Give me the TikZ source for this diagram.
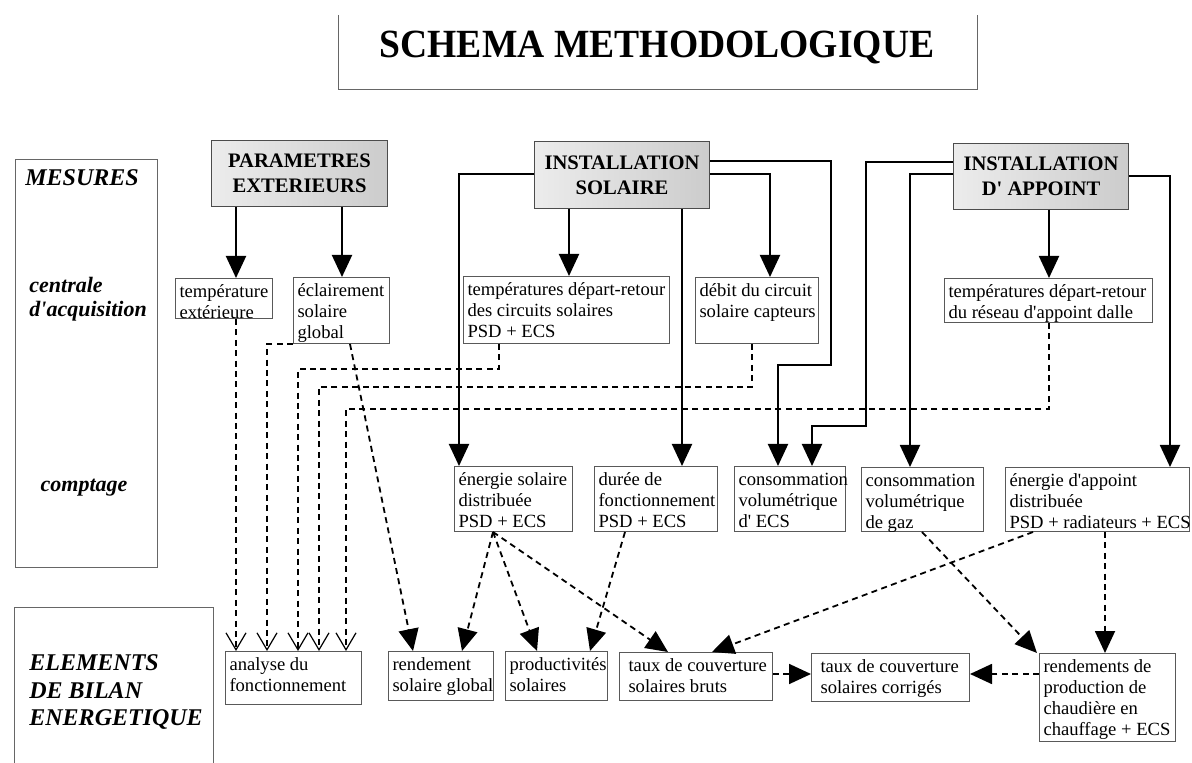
\documentclass[tikz,border=0pt]{standalone}
\usepackage{fontspec}
\usepackage{graphicx}
\setmainfont{Liberation Serif}
\usetikzlibrary{arrows.meta}
\newcommand\ap{\textquotesingle}
\newcommand\bx[6]{\node[box] (#1) at (#2,#3) {\parbox[c][\dimexpr 0.5pt*#5-4pt\relax][t]{\dimexpr 0.5pt*#4-4pt\relax}{\begin{tabular}[t]{@{}l@{}}#6\end{tabular}}};}
\tikzset{
 box/.style={draw=black!65, line width=0.5pt, inner sep=2pt, anchor=north west, font=\fontsize{9.3}{10.6}\selectfont},
 head/.style={draw=black!70, line width=0.5pt, anchor=north west, left color=gray!15, right color=gray!40, font=\fontsize{10.3}{12.5}\selectfont\bfseries, align=center, inner sep=0pt},
 lab/.style={font=\fontsize{11}{12}\selectfont\bfseries\itshape, align=left, inner sep=0pt},
 labU/.style={font=\fontsize{12}{13.8}\selectfont\bfseries\itshape, align=left, inner sep=0pt},
 frame/.style={draw=black!60, line width=0.5pt},
 sol/.style={line width=1pt, -{Triangle[length=11pt,width=10pt]}},
 dsh/.style={line width=0.9pt, dash pattern=on 3pt off 2.2pt, -{Triangle[length=11pt,width=10pt]}},
 dshv/.style={line width=0.9pt, dash pattern=on 3pt off 2.2pt, -{Straight Barb[length=8.5pt,width=10pt,line width=0.6pt]}},
}
\begin{document}
\begin{tikzpicture}[x=0.5pt,y=-0.5pt]
\useasboundingbox (0,0) rectangle (1192,763);
% title
\draw[frame] (338,15) -- (338,90) -- (977,90) -- (977,15);
\node[font=\fontsize{20}{24}\selectfont\bfseries, inner sep=0pt] (title) at (657,48) {\scalebox{0.94}[1]{SCHEMA METHODOLOGIQUE}};
% left label frames
\draw[frame] (15,160) rectangle (157,567);
\draw[frame] (14,763) -- (14,607) -- (213,607) -- (213,763);
\node[labU, anchor=west] (mes) at (25,178) {MESURES};
\node[lab, anchor=west] (cent) at (29,299) {centrale\\d\ap acquisition};
\node[lab] (compt) at (84,488) {comptage};
\node[labU, anchor=west] (elem) at (29,692) {ELEMENTS\\DE BILAN\\ENERGETIQUE};
% headers
\node[head, minimum width=88pt, minimum height=33pt] (PE) at (211,140) {PARAMETRES\\EXTERIEURS};
\node[head, minimum width=87.5pt, minimum height=33.5pt] (IS) at (534,141) {INSTALLATION\\SOLAIRE};
\node[head, minimum width=87.5pt, minimum height=33pt] (IA) at (953,143) {INSTALLATION\\D\ap\ APPOINT};
% row 2
\bx{tExt}{175}{278}{97}{40}{température\\extérieure}
\bx{ecl}{293}{277}{96}{66}{éclairement\\solaire\\global}
\bx{tSol}{463}{276}{206}{67}{températures départ-retour\\des circuits solaires\\PSD + ECS}
\bx{debit}{695}{277}{123}{66}{débit du circuit\\solaire capteurs}
\bx{tApp}{944}{278}{208}{44}{températures départ-retour\\du réseau d\ap appoint dalle}
% row 3
\bx{eSol}{454}{466}{118}{65}{énergie solaire\\distribuée\\PSD + ECS}
\bx{duree}{594}{466}{123}{65}{durée de\\fonctionnement\\PSD + ECS}
\bx{cEcs}{734}{466}{111}{65}{consommation\\volumétrique\\d\ap\ ECS}
\bx{cGaz}{861}{467}{122}{64}{consommation\\volumétrique\\de gaz}
\bx{eApp}{1005}{467}{184}{64}{énergie d\ap appoint\\distribuée\\PSD + radiateurs + ECS}
% row 4
\bx{analyse}{225}{651}{136}{53}{analyse du\\fonctionnement}
\bx{rend}{388}{651}{105}{49}{rendement\\solaire global}
\bx{prod}{505}{651}{102}{49}{productivités\\solaires}
\bx{tBruts}{619}{652}{153}{48}{\hspace*{2.5pt}taux de couverture\\\hspace*{2.5pt}solaires bruts}
\bx{tCorr}{811}{653}{158}{48}{\hspace*{2.5pt}taux de couverture\\\hspace*{2.5pt}solaires corrigés}
\bx{rProd}{1039}{653}{136}{88}{rendements de\\production de\\chaudière en\\chauffage + ECS}
% solid connectors
\draw[sol] (PE.south -| 236,0) -- (tExt.north -| 236,0);
\draw[sol] (PE.south -| 342,0) -- (ecl.north -| 342,0);
\draw[sol] (IS.south -| 569,0) -- (tSol.north -| 569,0);
\draw[sol] (IS.east |- 0,174) -| (debit.north -| 770,0);
\draw[sol] (IS.west |- 0,174) -| (eSol.north -| 459,0);
\draw[sol] (IS.south -| 682,0) -- (duree.north -| 682,0);
\draw[sol] (IS.east |- 0,161) -| (831,365) -| (cEcs.north -| 778,0);
\draw[sol] (IA.west |- 0,162) -| (866,426) -| (cEcs.north -| 812,0);
\draw[sol] (IA.west |- 0,174) -| (cGaz.north -| 910,0);
\draw[sol] (IA.south -| 1049,0) -- (tApp.north -| 1049,0);
\draw[sol] (IA.east |- 0,176) -| (eApp.north -| 1170,0);
% dashed connectors to analyse
\draw[dshv] (tExt.south -| 236,0) -- (analyse.north -| 236,0);
\draw[dshv] (ecl.south west) -| (analyse.north -| 267,0);
\draw[dshv] (tSol.south -| 499,0) |- (298,369) -- (analyse.north -| 298,0);
\draw[dshv] (debit.south -| 752,0) |- (319,387) -- (analyse.north -| 319,0);
\draw[dshv] (tApp.south -| 1049,0) |- (346,409) -- (analyse.north -| 346,0);
% dashed connectors
\draw[dsh] (ecl.south -| 350,0) -- (rend.north -| 413,0);
\draw[dsh] (eSol.south -| 493,0) -- (rend.north -| 462,0);
\draw[dsh] (eSol.south -| 493,0) -- (prod.north -| 537,0);
\draw[dsh] (eSol.south -| 493,0) -- (tBruts.north -| 668,0);
\draw[dsh] (duree.south -| 625,0) -- (prod.north -| 590,0);
\draw[dsh] (eApp.south -| 1033,0) -- (tBruts.north -| 712,0);
\draw[dsh] (cGaz.south -| 922,0) -- (rProd.north -| 1037,0);
\draw[dsh] (eApp.south -| 1105,0) -- (rProd.north -| 1105,0);
\draw[dsh] (tBruts.east |- 0,674) -- (tCorr.west |- 0,674);
\draw[dsh] (rProd.west |- 0,674) -- (tCorr.east |- 0,674);
\end{tikzpicture}
\end{document}
